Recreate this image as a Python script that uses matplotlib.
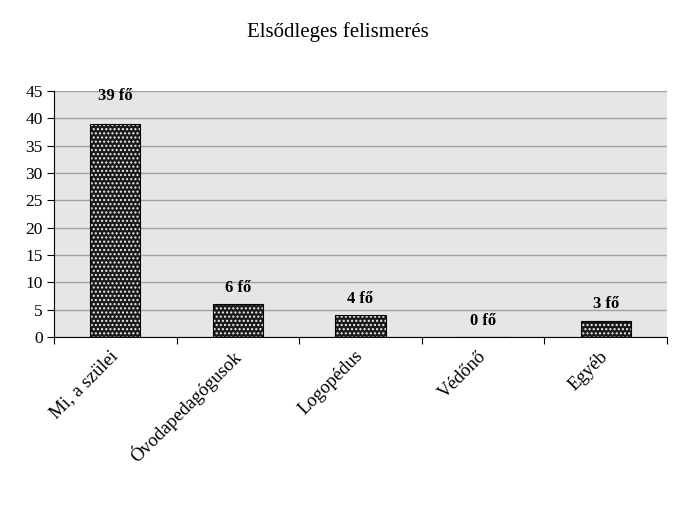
import matplotlib
matplotlib.use("Agg")
import matplotlib.pyplot as plt
import numpy as np

categories = ["Mi, a szülei", "Óvodapedagógusok", "Logopédus", "Védőnő", "Egyéb"]
values = [39, 6, 4, 0, 3]
value_labels = ["39 fő", "6 fő", "4 fő", "0 fő", "3 fő"]
yticks = [0, 5, 10, 15, 20, 25, 30, 35, 40, 45]
title = "Elsődleges felismerés"

plt.rcParams['font.family'] = ['Liberation Serif', 'DejaVu Serif']
plt.rcParams['hatch.linewidth'] = 1.0

fig = plt.figure(figsize=(6.76, 5.19), dpi=100)
ax = fig.add_axes([0.0799, 0.3507, 0.9068, 0.474])
ax.set_facecolor('#e6e6e6')

x = np.arange(len(categories))
ax.bar(x, values, width=0.41, color='#1a1a1a', edgecolor='#f0f0f0', hatch='....', linewidth=0, zorder=3)
ax.bar(x, values, width=0.41, facecolor='none', edgecolor='black', linewidth=0.8, zorder=4)

for xi, v, lab in zip(x, values, value_labels):
    off = 3 if v < 20 else 5
    ax.text(xi, v + off, lab, ha='center', va='center', fontsize=12, fontweight='bold', zorder=5)

ax.set_xlim(-0.5, len(categories) - 0.5)
ax.set_ylim(0, 45)
ax.set_yticks(yticks)
ax.set_yticklabels([str(t) for t in yticks], fontsize=12.5)
ax.yaxis.grid(True, color='#a0a0a0', linewidth=1.0, zorder=0)
ax.set_axisbelow(True)

ax.set_xticks(np.arange(len(categories) + 1) - 0.5, minor=False)
ax.set_xticklabels([''] * (len(categories) + 1))
ax.set_xticks(x, minor=True)
ax.set_xticklabels(categories, minor=True, rotation=45, ha='right', va='center',
                   rotation_mode='anchor', fontsize=13.5)
ax.tick_params(axis='x', which='minor', length=0, pad=12)
ax.tick_params(axis='x', which='major', length=5, direction='out', width=0.8)
ax.tick_params(axis='y', length=5, direction='out', width=0.8, pad=3)

for s in ['top', 'right']:
    ax.spines[s].set_visible(False)
ax.spines['left'].set_linewidth(0.8)
ax.spines['bottom'].set_linewidth(0.8)

fig.text(0.5, 0.938, title, ha='center', va='center', fontsize=15)

fig.savefig('out.png', dpi=100)
